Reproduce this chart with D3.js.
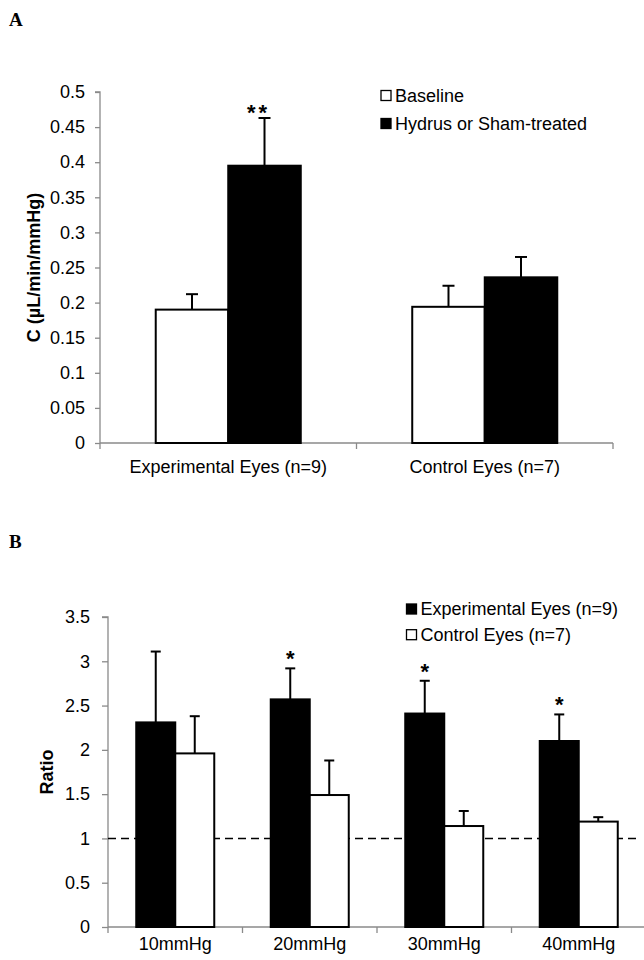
<!DOCTYPE html>
<html><head><meta charset="utf-8">
<script src="https://cdn.jsdelivr.net/npm/d3@7"></script>
<style>body{margin:0;background:#fff}svg{display:block}</style>
</head><body><svg id="c" width="644" height="960" font-family="Liberation Sans, Arial, sans-serif"></svg>
<script>
// Panel A data
const catsA = ["Experimental Eyes (n=9)", "Control Eyes (n=7)"];
const seriesA = ["Baseline", "Hydrus or Sham-treated"];
const baselineA = [0.19, 0.194];
const baselineErrA = [0.022, 0.030];
const treatedA = [0.395, 0.236];
const treatedErrA = [0.068, 0.029];
const starsA = ["**", ""];
const ticksA = [0, 0.05, 0.1, 0.15, 0.2, 0.25, 0.3, 0.35, 0.4, 0.45, 0.5];
const titleA = "C (µL/min/mmHg)";

// Panel B data
const catsB = ["10mmHg", "20mmHg", "30mmHg", "40mmHg"];
const seriesB = ["Experimental Eyes (n=9)", "Control Eyes (n=7)"];
const expB = [2.31, 2.57, 2.41, 2.10];
const expErrB = [0.80, 0.35, 0.37, 0.30];
const ctrlB = [1.96, 1.49, 1.14, 1.19];
const ctrlErrB = [0.42, 0.39, 0.17, 0.05];
const starsB = ["", "*", "*", "*"];
const ticksB = [0, 0.5, 1, 1.5, 2, 2.5, 3, 3.5];
const refB = 1;
const titleB = "Ratio";

const svg = d3.select("#c");
const AXC = "#8a8a8a";

function panel(o) {
  const g = svg.append("g");
  const y = d3.scaleLinear().domain(o.yDomain).range([o.y0, o.y1]);
  const x0 = d3.scaleBand().domain(o.cats).range([o.xL, o.xR]).padding(0);
  const bw = x0.bandwidth();
  const half = bw * o.barFrac;
  const x1 = d3.scaleBand().domain(o.series).range([bw / 2 - half, bw / 2 + half]).padding(0);

  // y axis
  const ya = g.append("g").attr("transform", `translate(${o.xL},0)`)
    .call(d3.axisLeft(y).tickValues(o.ticks).tickFormat(d => String(d)).tickSize(o.tickLen).tickPadding(o.tickPad));
  ya.attr("font-family", null);
  ya.selectAll("path,line").attr("stroke", AXC).attr("stroke-width", 1.3);
  ya.select(".domain").attr("d", `M-${o.tickLen},${o.y1}H0V${o.y0}`);
  ya.selectAll("text").attr("font-size", 18).attr("fill", "#000");

  // x axis
  const xa = g.append("g").attr("transform", `translate(0,${o.y0})`)
    .call(d3.axisBottom(x0).tickValues([]).tickSize(0));
  xa.select(".domain").attr("stroke", AXC).attr("stroke-width", 1.3).attr("d", `M${o.xL},0H${o.xR}`);
  const edges = o.cats.map(c => x0(c)).concat([o.xR]);
  xa.selectAll(".edge").data(edges).enter().append("line")
    .attr("x1", d => d).attr("x2", d => d).attr("y1", 0).attr("y2", 6)
    .attr("stroke", AXC).attr("stroke-width", 1.3);
  g.selectAll(".xl").data(o.cats).enter().append("text")
    .attr("x", d => x0(d) + bw / 2).attr("y", o.xLabelY)
    .attr("text-anchor", "middle").attr("font-size", 18).text(d => d);

  // reference line
  if (o.ref !== undefined) {
    g.append("line").attr("x1", o.xL).attr("x2", o.refEnd).attr("y1", y(o.ref)).attr("y2", y(o.ref))
      .attr("stroke", "#000").attr("stroke-width", 1.6).attr("stroke-dasharray", "8,5");
  }

  // bars
  o.series.forEach((s, si) => {
    const vals = o.values[si], errs = o.errs[si];
    const fill = o.fills[si];
    o.cats.forEach((c, ci) => {
      const bx = x0(c) + x1(s), w = x1.bandwidth(), cx = bx + w / 2;
      g.append("line").attr("x1", cx).attr("x2", cx).attr("y1", y(vals[ci])).attr("y2", y(vals[ci] + errs[ci]))
        .attr("stroke", "#000").attr("stroke-width", 2);
      g.append("line").attr("x1", cx - o.cap / 2).attr("x2", cx + o.cap / 2)
        .attr("y1", y(vals[ci] + errs[ci])).attr("y2", y(vals[ci] + errs[ci]))
        .attr("stroke", "#000").attr("stroke-width", 2);
      g.append("rect").attr("x", bx).attr("y", y(vals[ci])).attr("width", w).attr("height", y(0) - y(vals[ci]))
        .attr("fill", fill).attr("stroke", "#000").attr("stroke-width", 2);
    });
  });

  // stars
  o.cats.forEach((c, ci) => {
    const st = o.stars[ci]; if (!st) return;
    const si = o.starSeries;
    const cx = x0(c) + x1(o.series[si]) + x1.bandwidth() / 2;
    g.append("text").attr("x", cx + (st.length > 1 ? -6 : 0)).attr("y", y(o.values[si][ci] + o.errs[si][ci]) - o.starGap)
      .attr("text-anchor", "middle").attr("font-size", 22).attr("font-weight", "bold")
      .attr("letter-spacing", st.length > 1 ? 3 : 0).text(st);
  });

  // y title
  g.append("text").attr("transform", `translate(${o.titleX},${(o.y0 + o.y1) / 2}) rotate(-90)`)
    .attr("text-anchor", "middle").attr("dominant-baseline", "central")
    .attr("font-size", 18).attr("font-weight", "bold").text(o.title);

  // legend
  o.legendOrder.forEach((si, i) => {
    const ly = o.legY + i * o.legStep;
    g.append("rect").attr("x", o.legX).attr("y", ly - 11).attr("width", 10).attr("height", 10)
      .attr("fill", o.fills[si]).attr("stroke", "#000").attr("stroke-width", 1.3);
    g.append("text").attr("x", o.legX + 14).attr("y", ly).attr("font-size", 18).text(o.series[si]);
  });

  // panel letter
  g.append("text").attr("x", o.letterX).attr("y", o.letterY)
    .attr("font-family", "Liberation Serif, Times New Roman, serif").attr("font-weight", "bold")
    .attr("font-size", 19).text(o.letter);
}

panel({
  cats: catsA, series: seriesA, values: [baselineA, treatedA], errs: [baselineErrA, treatedErrA],
  fills: ["#fff", "#000"], stars: starsA, starSeries: 1, starGap: -2.5,
  yDomain: [0, 0.5], ticks: ticksA, y0: 443, y1: 92, xL: 100, xR: 613,
  barFrac: 0.2827, cap: 12, tickLen: 5, tickPad: 10, xLabelY: 473,
  title: titleA, titleX: 34, legX: 381, legY: 101.5, legStep: 28, legendOrder: [0, 1],
  letter: "A", letterX: 9, letterY: 26
});

panel({
  cats: catsB, series: seriesB, values: [expB, ctrlB], errs: [expErrB, ctrlErrB],
  fills: ["#000", "#fff"], stars: starsB, starSeries: 0, starGap: 2,
  yDomain: [0, 3.5], ticks: ticksB, y0: 927, y1: 617, xL: 108, xR: 646,
  barFrac: 0.29, cap: 10, tickLen: 6, tickPad: 12, xLabelY: 950,
  ref: refB, refEnd: 641,
  title: titleB, titleX: 47, legX: 406.5, legY: 615, legStep: 25.7, legendOrder: [0, 1],
  letter: "B", letterX: 9, letterY: 548
});
</script></body></html>
